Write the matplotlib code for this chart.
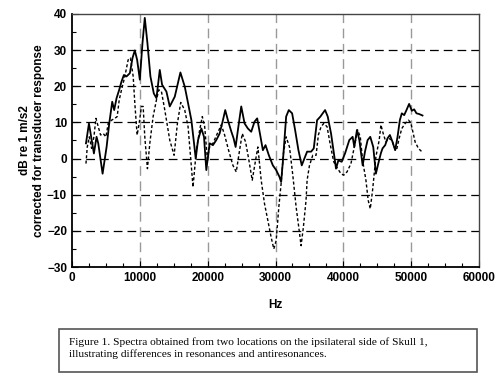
import matplotlib
matplotlib.use("Agg")
import matplotlib.pyplot as plt
from matplotlib.patches import Rectangle
from matplotlib.ticker import MultipleLocator

# location 1 (solid)
solid_hz = [2060, 2500, 3230, 3620, 3870, 4510, 5100, 5490, 5930, 6220, 6570, 6960, 7300, 7650,
            8040, 8530, 8920, 9260, 9600, 10000, 10390, 10730, 11120, 11560, 12060, 12450, 12940,
            13280, 13920, 14410, 15150, 15980, 16620, 17110, 17600, 17990, 18240, 18580, 19070,
            19460, 19800, 20290, 20780, 21270, 21760, 22250, 22590, 22980, 23480, 23820, 24120,
            24460, 24950, 25440, 25930, 26420, 26910, 27300, 27790, 28140, 28530, 29020, 29610,
            30100, 30590, 30830, 31080, 31570, 31960, 32450, 32890, 33380, 33870, 34260, 34660,
            35250, 35640, 36130, 36620, 36960, 37310, 37700, 38190, 38680, 38920, 39270, 39760,
            40250, 40880, 41370, 41620, 42010, 42360, 42850, 43190, 43580, 43970, 44410, 44800,
            45150, 45540, 45780, 46170, 46520, 46860, 47250, 47640, 47990, 48330, 48620, 48970,
            49310, 49700, 50100, 50440, 50780, 51180, 51670]
solid_db = [4.2, 9.7, 1.4, 6, 4.2, -4.2, 3.2, 9.7, 15.7, 13.4, 16.7, 19, 21.3, 23.1,
            22.7, 23.6, 27.8, 29.9, 27.3, 21.8, 31.9, 38.9, 31.9, 22.7, 18, 16.7, 24.5,
            20.4, 18.5, 14.4, 17.1, 23.8, 19.9, 15.3, 10.6, 4.2, 0, 5.1, 8.3,
            6, -3.2, 4.2, 3.7, 5.1, 6.9, 10.6, 13.4, 10.6, 7.5, 5.6, 3.2,
            7.9, 14.4, 9.7, 8.3, 7.4, 10.2, 11.1, 6, 2.3, 3.7, 0.9, -1.9,
            -3.2, -5.1, -6.5, -1, 11.6, 13.4, 12.5, 7.9, 2.3, -1.9, 0, 1.9,
            1.9, 2.8, 10.6, 11.6, 12.5, 13.4, 11.6, 6.9, 0.5, -2.8, -0.5, -0.9,
            1.4, 5.1, 6, 3.2, 7.9, 5.1, -1.9, 1.9, 5.1, 6, 3.2, -4.2,
            -1.4, 1.5, 2.8, 3.7, 5.6, 6.5, 4.6, 2.3, 6, 10.6, 12.5, 12,
            13.4, 15.1, 13.2, 13.6, 12.5, 12.3, 11.9]

# location 2 (dashed)
dashed_hz = [2060, 2250, 2550, 2890, 3230, 3530, 3870, 4210, 4610, 5000, 5340, 5830, 6320, 6660,
             6960, 7300, 7790, 8280, 8620, 9020, 9260, 9600, 9900, 10240, 10490, 10730, 11120,
             11470, 11960, 12450, 12790, 13190, 13680, 14410, 15050, 15540, 16030, 16620, 17110,
             17600, 17840, 18330, 18820, 19210, 19560, 19950, 20290, 20780, 21420, 22010, 22500,
             23080, 23725, 24215, 24705, 25100, 25590, 26080, 26570, 27060, 27400, 27890, 28380,
             28870, 29360, 29750, 30100, 30490, 30830, 31170, 31570, 32060, 32550, 33040, 33430,
             33770, 34110, 34500, 34660, 35000, 35490, 35980, 36320, 36720, 37110, 37600, 38090,
             38580, 39165, 39655, 40050, 40540, 41125, 41615, 42100, 42500, 42840, 43330, 43670,
             43970, 44310, 44800, 45290, 45540, 45880, 46270, 46660, 47150, 47500, 47840, 48230,
             48620, 49110, 49600, 49945, 50190, 50580, 51070, 51560]
dashed_db = [-1.4, 3.2, 6, 2.8, 6, 11.1, 8.8, 6.5, 6.9, 6, 9.7, 10.6, 11.1, 11.6,
             16.2, 19, 22.7, 27.3, 27.8, 22.7, 15.3, 6.5, 9.7, 14.4, 14.4, 6, -2.8,
             4.2, 11.6, 16.2, 19, 18.5, 13.4, 5.1, 0.9, 9.7, 15.5, 13.4, 8.8,
             -2.3, -7.9, 2.3, 7.9, 11.6, 8.8, 0, 3.2, 4.2, 6.9, 9.3, 6.5,
             2.3, -1.9, -3.7, 2.3, 6.9, 4.6, -0.5, -6, -0.5, 3.2, -6, -12.5,
             -17.1, -21.8, -25, -22.7, -13.4, -6.9, 1.4, 6, 3.2, -4.6, -13.4, -19,
             -24.1, -19, -11.6, -6, -2, 0.9, 0.9, 6.5, 8.8, 9.7, 8.8, 3.7,
             -0.9, -2.8, -4.2, -4.6, -3.7, -1.4, 3.2, 7.9, 6, -0.5, -6, -11.6,
             -13.9, -8.8, 0.5, 5.1, 9.3, 6.9, 4.6, 5.6, 5.1, 3.2, 2.3, 5.6,
             8.3, 9.7, 10.6, 9.9, 7.9, 4.6, 2.8, 1.9]

plt.rcParams["font.family"] = ["Liberation Sans", "DejaVu Sans"]

fig = plt.figure(figsize=(5, 3.75), dpi=100)
ax = fig.add_axes([0.144, 0.288, 0.814, 0.675])

ax.set_xlim(0, 60000)
ax.set_ylim(-30, 40)
ax.xaxis.set_major_locator(MultipleLocator(10000))
ax.xaxis.set_minor_locator(MultipleLocator(2500))
ax.yaxis.set_major_locator(MultipleLocator(10))
ax.yaxis.set_minor_locator(MultipleLocator(5))

for yv in range(-20, 40, 10):
    ax.axhline(yv, color="black", lw=0.9, ls=(0, (7, 4)), zorder=1)
for xv in range(10000, 60000, 10000):
    ax.axvline(xv, color="#999999", lw=1.0, ls=(0, (7, 4)), zorder=1)

ax.plot(solid_hz, solid_db, color="black", lw=1.3, zorder=3)
ax.plot(dashed_hz, dashed_db, color="black", lw=1.0, ls=(0, (2.2, 1.6)), zorder=3)

ax.tick_params(which="both", direction="in", labelsize=8.5)
ax.tick_params(which="major", length=4, width=0.8)
ax.tick_params(which="minor", length=3, width=0.8)
for lbl in ax.get_xticklabels() + ax.get_yticklabels():
    lbl.set_fontweight("bold")
for s in ["left", "bottom"]:
    ax.spines[s].set_linewidth(1.3)
for s in ["top", "right"]:
    ax.spines[s].set_color("#444444")
    ax.spines[s].set_linewidth(1.0)

ax.set_xlabel("Hz", fontsize=8.5, fontweight="bold", labelpad=11)
ax.set_ylabel("dB re 1 m/s2\ncorrected for transducer response", fontsize=8.5,
              fontweight="bold", labelpad=1.5, linespacing=1.25)

fig.patches.append(Rectangle((0.118, 0.008), 0.836, 0.115, transform=fig.transFigure,
                             fill=False, edgecolor="#555555", lw=1.2))
fig.text(0.138, 0.100, "Figure 1. Spectra obtained from two locations on the ipsilateral side of Skull 1,\n"
         "illustrating differences in resonances and antiresonances.",
         family="Liberation Serif", fontsize=8.2, va="top", ha="left", linespacing=1.22)

fig.savefig("out.png", dpi=100, facecolor="white")
